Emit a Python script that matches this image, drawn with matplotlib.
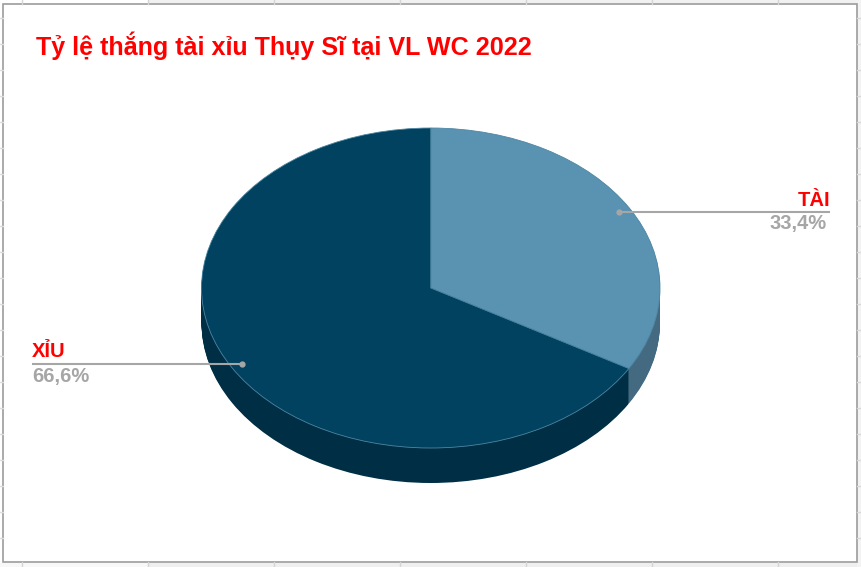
import matplotlib
matplotlib.use("Agg")
import matplotlib.pyplot as plt
from matplotlib.patches import Rectangle

W, H = 862, 567

# data
title = "Tỷ lệ thắng tài xỉu Thụy Sĩ tại VL WC 2022"
labels = ["TÀI", "XỈU"]
pct_labels = ["33,4%", "66,6%"]
shares = [33.4, 66.6]
top_colors = ["#5a93b1", "#00425f"]
side_colors = ["#436a80", "#002f45"]

plt.rcParams["font.family"] = ["Liberation Sans", "DejaVu Sans"]

fig = plt.figure(figsize=(W / 100, H / 100), dpi=100, facecolor="white")


def pixel_axes(zorder):
    ax = fig.add_axes([0, 0, 1, 1], zorder=zorder)
    ax.set_xlim(0, W)
    ax.set_ylim(H, 0)
    ax.axis("off")
    return ax


# spreadsheet behind the chart
back = pixel_axes(0)
back.add_patch(Rectangle((148, 0), W - 148, 4, color="#f1f1f1", lw=0))
back.add_patch(Rectangle((148, 563), W - 148, 4, color="#efefef", lw=0))
back.add_patch(Rectangle((0, 563), 148, 4, color="#f8f8f8", lw=0))
back.add_patch(Rectangle((857, 0), 5, H, color="#f3f3f3", lw=0))
for x in range(22, W, 126):
    back.plot([x, x], [0, 4], color="#d4d4d4", lw=1)
    back.plot([x, x], [562, H], color="#d4d4d4", lw=1)
for y in range(18, 560, 26):
    back.plot([0, 3], [y, y], color="#dcdcdc", lw=1)
    back.plot([857, W], [y, y], color="#d8d8d8", lw=1)
back.add_patch(Rectangle((3.5, 3.5), 853.5, 558.5, fc="white", ec="#9c9c9c", lw=1.2))

# pie, stretched into an ellipse by its own axes
left, right, top, bottom = 201.5, 660, 128, 448
depth = 35
ry = (bottom - top) / 2
pie_ax = fig.add_axes(
    [left / W, 1 - (bottom + depth) / H, (right - left) / W, (bottom + depth - top) / H],
    zorder=1,
)
for d in range(depth, 0, -1):
    pie_ax.pie(shares, colors=side_colors, startangle=90, counterclock=False,
               center=(0, -d / ry), radius=1, normalize=True,
               wedgeprops={"linewidth": 0})
pie_ax.pie(shares, colors=top_colors, startangle=90, counterclock=False,
           center=(0, 0), radius=1, normalize=True,
           wedgeprops={"linewidth": 0.6, "edgecolor": "#4d86a3"})
pie_ax.set_aspect("auto")
pie_ax.set_xlim(-1, 1)
pie_ax.set_ylim(-1 - depth / ry, 1)

# title and leader labels
ax = pixel_axes(2)
ax.text(36.5, 54.5, title, color="#ff0000", fontsize=18.1, fontweight="bold", ha="left", va="baseline")

grey = "#a6a6a6"
ax.plot([619, 830], [212, 212], color=grey, lw=1.5, solid_capstyle="butt")
ax.plot([619], [212], "o", color=grey, ms=3.5)
ax.text(830, 206, labels[0], color="#ff0000", fontsize=14.5, fontweight="bold", ha="right", va="baseline")
ax.text(826.5, 229.5, pct_labels[0], color=grey, fontsize=14.5, fontweight="bold", ha="right", va="baseline")

ax.plot([32, 242], [364, 364], color=grey, lw=1.5, solid_capstyle="butt")
ax.plot([242], [364], "o", color=grey, ms=3.5)
ax.text(32, 357, labels[1], color="#ff0000", fontsize=14.5, fontweight="bold", ha="left", va="baseline")
ax.text(32, 382, pct_labels[1], color=grey, fontsize=14.5, fontweight="bold", ha="left", va="baseline")

fig.savefig("out.png", dpi=100, facecolor="white")
